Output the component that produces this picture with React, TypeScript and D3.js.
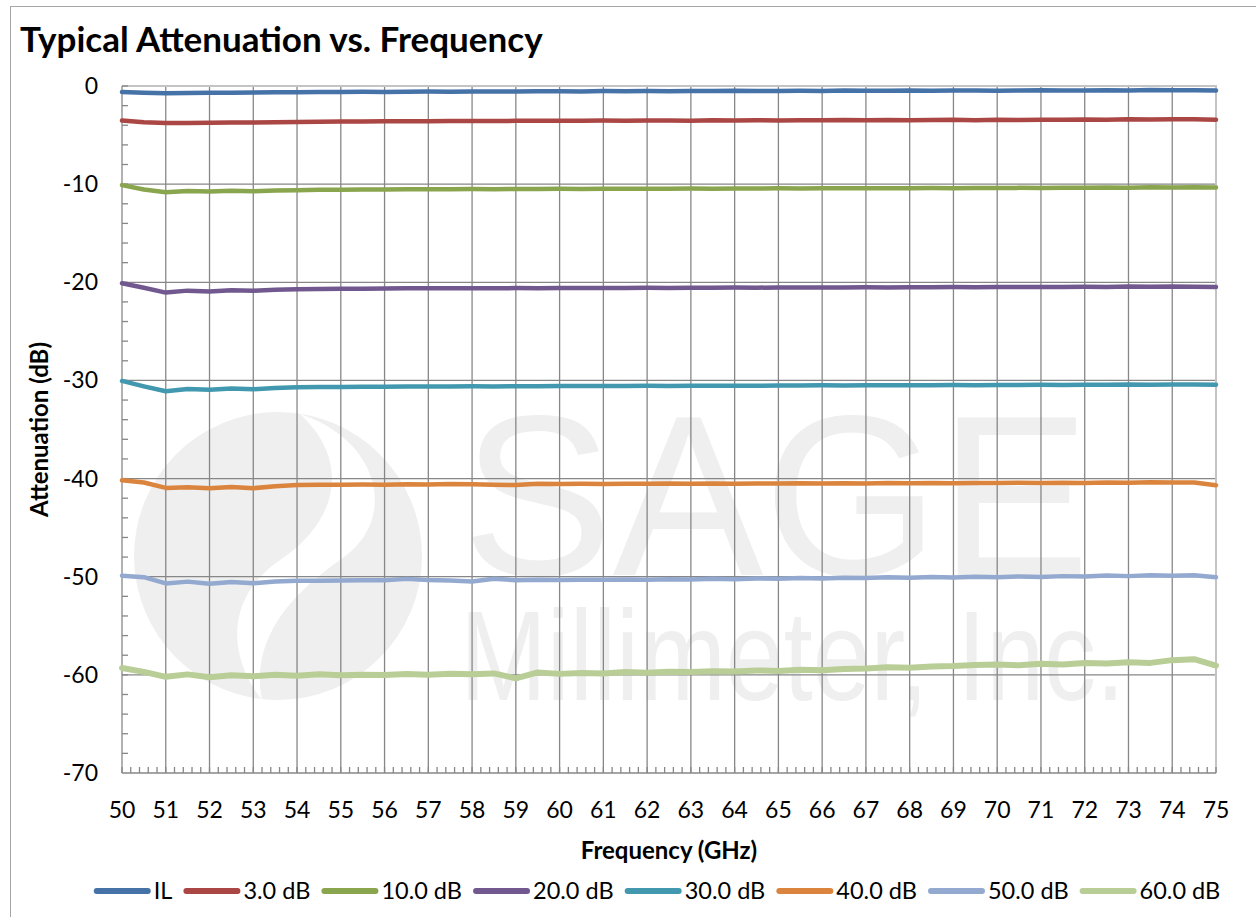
import React, { useEffect, useRef } from 'react';
import * as d3 from 'd3';

// sample frequencies (GHz)
const freqs = [
  50, 50.5, 51, 51.5, 52, 52.5, 53, 53.5, 54, 54.5,
  55, 55.5, 56, 56.5, 57, 57.5, 58, 58.5, 59, 59.5,
  60, 60.5, 61, 61.5, 62, 62.5, 63, 63.5, 64, 64.5,
  65, 65.5, 66, 66.5, 67, 67.5, 68, 68.5, 69, 69.5,
  70, 70.5, 71, 71.5, 72, 72.5, 73, 73.5, 74, 74.5,
  75,
];

const il = [
  -0.62, -0.7, -0.74, -0.72, -0.7, -0.68, -0.66, -0.64, -0.63, -0.61,
  -0.6, -0.59, -0.6, -0.58, -0.57, -0.58, -0.56, -0.55, -0.57, -0.54,
  -0.53, -0.55, -0.52, -0.53, -0.51, -0.53, -0.5, -0.52, -0.49, -0.51,
  -0.5, -0.48, -0.5, -0.47, -0.49, -0.48, -0.46, -0.49, -0.47, -0.45,
  -0.48, -0.46, -0.44, -0.47, -0.45, -0.43, -0.46, -0.41, -0.44, -0.43,
  -0.45,
];
const att3 = [
  -3.52, -3.7, -3.78, -3.76, -3.74, -3.72, -3.72, -3.69, -3.66, -3.64,
  -3.62, -3.62, -3.6, -3.59, -3.58, -3.57, -3.56, -3.57, -3.55, -3.54,
  -3.55, -3.53, -3.52, -3.54, -3.52, -3.51, -3.53, -3.5, -3.52, -3.49,
  -3.51, -3.48, -3.5, -3.47, -3.49, -3.46, -3.48, -3.47, -3.45, -3.48,
  -3.44, -3.46, -3.43, -3.45, -3.42, -3.44, -3.4, -3.42, -3.38, -3.4,
  -3.44,
];
const att10 = [
  -10.1, -10.55, -10.82, -10.7, -10.76, -10.68, -10.72, -10.66, -10.62, -10.58,
  -10.56, -10.54, -10.55, -10.53, -10.52, -10.52, -10.5, -10.51, -10.49, -10.5,
  -10.48, -10.49, -10.47, -10.48, -10.46, -10.47, -10.45, -10.46, -10.44, -10.45,
  -10.43, -10.44, -10.42, -10.43, -10.42, -10.41, -10.42, -10.4, -10.41, -10.39,
  -10.4, -10.38, -10.39, -10.37, -10.38, -10.34, -10.37, -10.32, -10.35, -10.32,
  -10.34,
];
const att20 = [
  -20.1, -20.55, -21.05, -20.85, -20.95, -20.8, -20.86, -20.76, -20.72, -20.68,
  -20.66, -20.65, -20.64, -20.62, -20.62, -20.61, -20.6, -20.61, -20.59, -20.6,
  -20.58, -20.59, -20.57, -20.58, -20.56, -20.57, -20.55, -20.56, -20.54, -20.55,
  -20.53, -20.54, -20.52, -20.53, -20.51, -20.52, -20.5, -20.51, -20.49, -20.5,
  -20.48, -20.49, -20.47, -20.48, -20.46, -20.47, -20.44, -20.46, -20.43, -20.45,
  -20.47,
];
const att30 = [
  -30.05, -30.6, -31.1, -30.88, -30.95, -30.82, -30.9, -30.78, -30.7, -30.68,
  -30.66, -30.65, -30.64, -30.63, -30.62, -30.62, -30.6, -30.61, -30.59, -30.6,
  -30.58, -30.58, -30.56, -30.57, -30.55, -30.56, -30.54, -30.55, -30.53, -30.54,
  -30.52, -30.52, -30.5, -30.51, -30.49, -30.5, -30.48, -30.49, -30.47, -30.48,
  -30.46, -30.47, -30.45, -30.46, -30.44, -30.45, -30.42, -30.44, -30.41, -30.42,
  -30.44,
];
const att40 = [
  -40.18, -40.4, -40.95, -40.88, -40.98, -40.85, -40.98, -40.78, -40.66, -40.62,
  -40.62, -40.6, -40.62, -40.58, -40.6, -40.56, -40.58, -40.62, -40.66, -40.52,
  -40.56, -40.54, -40.55, -40.52, -40.54, -40.51, -40.53, -40.5, -40.52, -40.49,
  -40.51, -40.48, -40.5, -40.47, -40.49, -40.46, -40.48, -40.45, -40.47, -40.44,
  -40.46, -40.43, -40.45, -40.42, -40.44, -40.4, -40.43, -40.38, -40.41, -40.4,
  -40.68,
];
const att50 = [
  -49.9, -50.05, -50.68, -50.5, -50.72, -50.55, -50.66, -50.48, -50.42, -50.4,
  -50.38, -50.36, -50.37, -50.22, -50.34, -50.38, -50.48, -50.2, -50.36, -50.32,
  -50.34, -50.3, -50.32, -50.28, -50.3, -50.26, -50.28, -50.22, -50.25, -50.18,
  -50.22, -50.14, -50.18, -50.1, -50.14, -50.06, -50.1, -50.04, -50.08, -50.0,
  -50.05, -49.98, -50.02, -49.94, -49.98, -49.88, -49.94, -49.84, -49.9, -49.86,
  -50.06,
];
const att60 = [
  -59.3, -59.7, -60.2, -59.95, -60.25, -60.05, -60.15, -60.0, -60.1, -59.95,
  -60.05, -59.98, -60.02, -59.92, -59.98, -59.88, -59.95, -59.85, -60.35, -59.75,
  -59.9, -59.8, -59.85, -59.72, -59.78, -59.68, -59.72, -59.62, -59.66, -59.55,
  -59.6, -59.48, -59.52, -59.4, -59.35, -59.22, -59.28, -59.15, -59.1, -59.0,
  -58.95, -59.02, -58.88, -58.95, -58.8, -58.85, -58.72, -58.78, -58.5, -58.4,
  -59.05,
];

const seriesNames = ['IL', '3.0 dB', '10.0 dB', '20.0 dB', '30.0 dB', '40.0 dB', '50.0 dB', '60.0 dB'];
const seriesValues = [il, att3, att10, att20, att30, att40, att50, att60];
const colors = ['#4572A7', '#AA4643', '#89A54E', '#71588F', '#4198AF', '#DB843D', '#93A9CF', '#B9CD96'];

const xTicks = d3.range(50, 76, 1);
const yTicks = [0, -10, -20, -30, -40, -50, -60, -70];

const FONT = 'Lato, "Open Sans", sans-serif';

const App: React.FC = () => {
  const ref = useRef<SVGSVGElement>(null);

  useEffect(() => {
    if (!ref.current) return;
    const width = 1256;
    const height = 917;
    const plot = { left: 122, right: 1216, top: 86, bottom: 773 };

    const svg = d3.select(ref.current);
    svg.selectAll('*').remove();

    svg.append('rect').attr('width', width).attr('height', height).attr('fill', '#fff');

    // outer chart border
    svg
      .append('rect')
      .attr('x', 10.5)
      .attr('y', 6.5)
      .attr('width', 1270)
      .attr('height', 930)
      .attr('fill', 'none')
      .attr('stroke', '#a6a6a6');

    const x = d3.scaleLinear().domain([50, 75]).range([plot.left, plot.right]);
    const y = d3.scaleLinear().domain([-70, 0]).range([plot.bottom, plot.top]);

    // watermark (logo in the plot background)
    const wm = svg.append('g').attr('fill', '#efefef');
    wm.append('circle').attr('cx', 278).attr('cy', 556).attr('r', 144);
    wm.append('path')
      .attr('fill', '#fff')
      .attr(
        'd',
        'M300,414 C380,440 400,520 340,560 C290,595 250,640 262,700 C230,660 222,600 280,560 C340,520 350,460 300,414 Z',
      );
    wm.append('text')
      .attr('x', 462)
      .attr('y', 575)
      .attr('font-family', '"Liberation Sans", sans-serif')
      .attr('font-size', 228)
      .attr('textLength', 628)
      .attr('lengthAdjust', 'spacingAndGlyphs')
      .text('SAGE');
    wm.append('text')
      .attr('x', 460)
      .attr('y', 700)
      .attr('font-family', '"Liberation Sans", sans-serif')
      .attr('font-size', 128)
      .attr('textLength', 665)
      .attr('lengthAdjust', 'spacingAndGlyphs')
      .text('Millimeter, Inc.');

    // gridlines
    const grid = svg.append('g').attr('stroke', '#878787').attr('stroke-width', 1.3);
    grid
      .selectAll('line.vx')
      .data(xTicks.filter((d) => d > 50 && d < 75))
      .enter()
      .append('line')
      .attr('x1', (d) => x(d))
      .attr('x2', (d) => x(d))
      .attr('y1', plot.top)
      .attr('y2', plot.bottom);
    grid
      .selectAll('line.hy')
      .data(yTicks.filter((d) => d < 0 && d > -70))
      .enter()
      .append('line')
      .attr('x1', plot.left)
      .attr('x2', plot.right)
      .attr('y1', (d) => y(d))
      .attr('y2', (d) => y(d));

    // plot border top/right
    svg
      .append('path')
      .attr('d', `M${plot.left},${plot.top}H${plot.right}V${plot.bottom}`)
      .attr('fill', 'none')
      .attr('stroke', '#c4c4c4')
      .attr('stroke-width', 2);

    // axes
    const axis = svg.append('g').attr('stroke', '#878787').attr('stroke-width', 1.3);
    axis.append('line').attr('x1', plot.left).attr('x2', plot.left).attr('y1', plot.top).attr('y2', plot.bottom);
    axis.append('line').attr('x1', plot.left).attr('x2', plot.right).attr('y1', plot.bottom).attr('y2', plot.bottom);

    const yMinor = d3.range(0, -70, -2);
    axis
      .selectAll('line.ym')
      .data(yMinor)
      .enter()
      .append('line')
      .attr('x1', plot.left)
      .attr('x2', plot.left + 6)
      .attr('y1', (d) => y(d))
      .attr('y2', (d) => y(d));
    const xMinor = d3.range(0, 126).map((i) => 50 + i * 0.2);
    axis
      .selectAll('line.xm')
      .data(xMinor)
      .enter()
      .append('line')
      .attr('x1', (d) => x(d))
      .attr('x2', (d) => x(d))
      .attr('y1', plot.bottom)
      .attr('y2', plot.bottom - 6);

    // series lines
    const line = d3
      .line<number>()
      .x((d, i) => x(freqs[i]))
      .y((d) => y(d))
      .curve(d3.curveLinear);

    seriesValues.forEach((vals, i) => {
      svg
        .append('path')
        .datum(vals)
        .attr('d', line)
        .attr('fill', 'none')
        .attr('stroke', colors[i])
        .attr('stroke-width', i === 7 ? 6 : 4.5)
        .attr('stroke-linejoin', 'round')
        .attr('stroke-linecap', 'round');
    });

    // tick labels
    svg
      .append('g')
      .selectAll('text')
      .data(yTicks)
      .enter()
      .append('text')
      .attr('x', 98)
      .attr('y', (d) => y(d) + 8)
      .attr('text-anchor', 'end')
      .attr('font-family', FONT)
      .attr('font-size', 23)
      .attr('fill', '#000')
      .text((d) => String(d));

    svg
      .append('g')
      .selectAll('text')
      .data(xTicks)
      .enter()
      .append('text')
      .attr('x', (d) => x(d))
      .attr('y', 818)
      .attr('text-anchor', 'middle')
      .attr('font-family', FONT)
      .attr('font-size', 23)
      .attr('fill', '#000')
      .text((d) => String(d));

    // titles
    svg
      .append('text')
      .attr('x', 20)
      .attr('y', 52)
      .attr('font-family', FONT)
      .attr('font-weight', 'bold')
      .attr('font-size', 35)
      .text('Typical Attenuation vs. Frequency');

    svg
      .append('text')
      .attr('x', 669)
      .attr('y', 859)
      .attr('text-anchor', 'middle')
      .attr('font-family', FONT)
      .attr('font-weight', 'bold')
      .attr('font-size', 24)
      .text('Frequency (GHz)');

    svg
      .append('text')
      .attr('transform', `translate(48,${(plot.top + plot.bottom) / 2}) rotate(-90)`)
      .attr('text-anchor', 'middle')
      .attr('font-family', FONT)
      .attr('font-weight', 'bold')
      .attr('font-size', 24)
      .text('Attenuation (dB)');

    // legend
    const legend = svg.append('g');
    const items = seriesNames.map((name, i) => {
      const g = legend.append('g');
      g.append('line')
        .attr('x1', 3)
        .attr('x2', 54)
        .attr('y1', 0)
        .attr('y2', 0)
        .attr('stroke', colors[i])
        .attr('stroke-width', 6)
        .attr('stroke-linecap', 'round');
      const t = g
        .append('text')
        .attr('x', 60)
        .attr('y', 8)
        .attr('font-family', FONT)
        .attr('font-size', 23.5)
        .text(name);
      const w = 60 + (t.node() as SVGTextElement).getComputedTextLength();
      return { g, w };
    });
    const gap = 11;
    const total = d3.sum(items, (d) => d.w) + gap * (items.length - 1);
    let cx = 657 - total / 2;
    items.forEach((it) => {
      it.g.attr('transform', `translate(${cx},891)`);
      cx += it.w + gap;
    });
  }, []);

  return (
    <svg
      ref={ref}
      width={1256}
      height={917}
      style={{ position: 'absolute', left: 0, top: 0, display: 'block' }}
    />
  );
};

export default App;
